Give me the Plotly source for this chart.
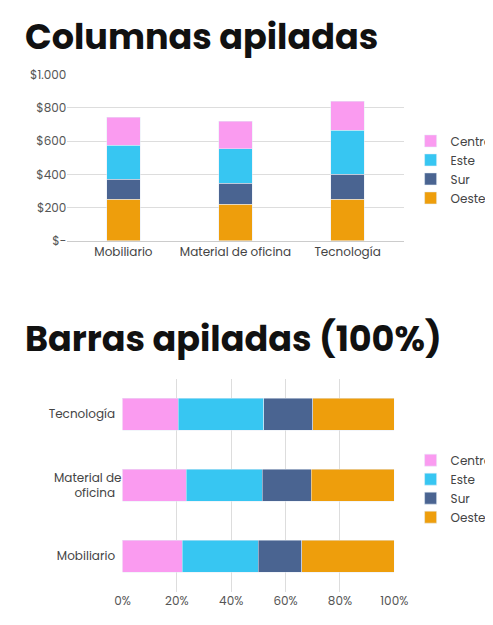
import plotly.graph_objects as go

categories = ["Mobiliario", "Material de oficina", "Tecnología"]
cats_h = ["Mobiliario", "Material de<br>oficina", "Tecnología"]
series = ["Oeste", "Sur", "Este", "Central"]
colors = {"Oeste": "#EE9E0C", "Sur": "#4A6491", "Este": "#37C6F2", "Central": "#FA9BF0"}
values = {
    "Oeste": [250, 220, 250],
    "Sur": [120, 125, 150],
    "Este": [205, 210, 265],
    "Central": [170, 165, 175],
}
pct = {
    "Central": [22, 23.5, 20.5],
    "Este": [28, 28, 31.5],
    "Sur": [16, 18, 18],
    "Oeste": [34, 30.5, 30],
}
yticks = [0, 200, 400, 600, 800, 1000]
yticktext = ["$-", "$200", "$400", "$600", "$800", "$1.000"]
xticks = [0, 20, 40, 60, 80, 100]

fig = go.Figure()
for s in series:
    fig.add_trace(go.Bar(x=categories, y=values[s], name=s, marker_color=colors[s],
                         width=0.3, xaxis="x", yaxis="y", legend="legend"))
for s in ["Central", "Este", "Sur", "Oeste"]:
    fig.add_trace(go.Bar(y=cats_h, x=pct[s], name=s, orientation="h", marker_color=colors[s],
                         width=0.45, xaxis="x2", yaxis="y2", legend="legend2"))

f = dict(family="Poppins, Lato, Open Sans, sans-serif", size=12, color="#555")
fig.update_layout(
    width=493, height=625, margin=dict(l=0, r=0, t=0, b=0),
    paper_bgcolor="white", plot_bgcolor="white", barmode="stack", font=f,
    xaxis=dict(domain=[0.11, 0.83], anchor="y", showline=True, linecolor="#ccc", tickfont=dict(size=12, color="#444")),
    yaxis=dict(domain=[0.632, 0.905], range=[0, 1000], tickvals=yticks, ticktext=yticktext,
               showgrid=True, gridcolor="#ddd", zeroline=False, tickfont=dict(size=12, color="#555")),
    xaxis2=dict(domain=[0.228, 0.81], anchor="y2", range=[0, 100], tickvals=xticks,
                ticktext=[f"{v}%" for v in xticks], showgrid=True, gridcolor="#ddd", zeroline=False,
                tickfont=dict(size=12, color="#555")),
    yaxis2=dict(domain=[0.055, 0.405], anchor="x2", tickfont=dict(size=12, color="#444"), ticksuffix="  "),
    legend=dict(x=0.845, y=0.82, xanchor="left", yanchor="top", traceorder="reversed",
                font=dict(size=12, color="#444"), itemwidth=30),
    legend2=dict(x=0.845, y=0.295, xanchor="left", yanchor="top", traceorder="normal",
                 font=dict(size=12, color="#444"), itemwidth=30),
    annotations=[
        dict(text="<b>Columnas apiladas</b>", x=0.015, y=1.012, xref="paper", yref="paper",
             xanchor="left", yanchor="top", showarrow=False,
             font=dict(family="Poppins, Lato, Open Sans, sans-serif", size=35, color="#111")),
        dict(text="<b>Barras apiladas (100%)</b>", x=0.015, y=0.515, xref="paper", yref="paper",
             xanchor="left", yanchor="top", showarrow=False,
             font=dict(family="Poppins, Lato, Open Sans, sans-serif", size=35, color="#111")),
    ],
)
fig.write_html("out.html")
